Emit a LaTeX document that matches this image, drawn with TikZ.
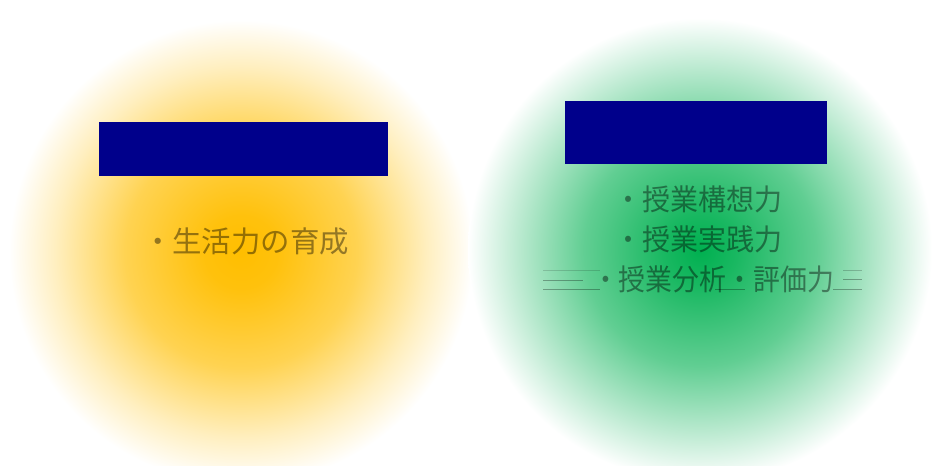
\documentclass[tikz,border=0pt]{standalone}
\usepackage{fontspec}
\newfontfamily\jpfont{Noto Sans CJK JP}
\definecolor{goldc}{RGB}{255,190,0}
\definecolor{greenc}{RGB}{0,176,80}
\definecolor{navyc}{RGB}{0,0,139}
\pgfdeclareradialshading{goldglow}{\pgfpoint{0bp}{0bp}}{%
  color(0bp)=(goldc);
  color(4bp)=(goldc!95!white);
  color(12.5bp)=(goldc!68!white);
  color(20bp)=(goldc!25!white);
  color(25bp)=(white);
  color(100bp)=(white)}
\pgfdeclareradialshading{greenglow}{\pgfpoint{0bp}{0bp}}{%
  color(0bp)=(greenc);
  color(4bp)=(greenc!90!white);
  color(12.5bp)=(greenc!62!white);
  color(20bp)=(greenc!25!white);
  color(25bp)=(white);
  color(100bp)=(white)}
\tikzset{
  label text/.style={font=\jpfont\fontsize{28}{32}\selectfont, text=black, text opacity=0.42, inner sep=0pt, anchor=center, yscale=1.05},
  titlebox/.style={fill=navyc, draw=none},
  artline/.style={draw=black, draw opacity=0.3, line width=0.7pt}
}
\begin{document}
\begin{tikzpicture}[x=1pt,y=-1pt]
\useasboundingbox (0,0) rectangle (938,466);
\fill[white] (0,0) rectangle (938,466);
% glows
\shade[shading=goldglow] (241,252) circle (232);
\shade[shading=greenglow] (700,250) circle (232);
% title boxes
\node[titlebox, minimum width=289pt, minimum height=54pt, inner sep=0pt] (lbox) at (243.5,149) {};
\node[titlebox, minimum width=262pt, minimum height=63pt, inner sep=0pt] (rbox) at (696,132.5) {};
% texts
\node[label text, xscale=1.05] (ltext) at (246,241) {・生活力の育成};
\node[label text] (r1) at (698,199) {・授業構想力};
\node[label text] (r2) at (698,239) {・授業実践力};
\node[label text, xscale=0.96] (r3) at (713,279) {・授業分析・評価力};
% rendering artefact lines
\coordinate (a1) at (543,270); \coordinate (a2) at (600,270);
\coordinate (b1) at (543,280); \coordinate (b2) at (583,280);
\coordinate (c1) at (543,289); \coordinate (c2) at (600,289);
\coordinate (d1) at (715,289); \coordinate (d2) at (745,289);
\coordinate (e1) at (843,270); \coordinate (e2) at (862,270);
\coordinate (f1) at (843,279); \coordinate (f2) at (862,279);
\coordinate (g1) at (833,289); \coordinate (g2) at (862,289);
\draw[artline, draw opacity=0.15] (a1) -- (a2);
\draw[artline] (b1) -- (b2);
\draw[artline] (c1) -- (c2);
\draw[artline] (d1) -- (d2);
\draw[artline, draw opacity=0.2] (e1) -- (e2);
\draw[artline] (f1) -- (f2);
\draw[artline] (g1) -- (g2);
\end{tikzpicture}
\end{document}
